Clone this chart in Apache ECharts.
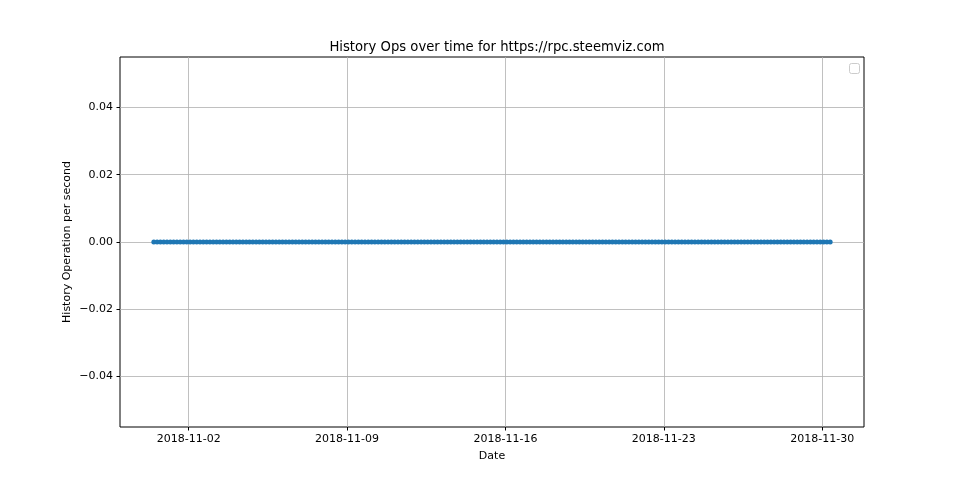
<!DOCTYPE html>
<html>
<head>
<meta charset="utf-8">
<script src="https://cdn.jsdelivr.net/npm/echarts@6/dist/echarts.min.js"></script>
<style>html,body{margin:0;padding:0;background:#fff}#c{width:960px;height:480px}</style>
</head>
<body>
<div id="c"></div>
<script>
const timestamps = [
'2018-10-31 11:00','2018-10-31 14:30','2018-10-31 18:00','2018-10-31 21:30',
'2018-11-01 01:00','2018-11-01 04:30','2018-11-01 08:00','2018-11-01 11:30','2018-11-01 15:00','2018-11-01 18:30','2018-11-01 22:00',
'2018-11-02 01:30','2018-11-02 05:00','2018-11-02 08:30','2018-11-02 12:00','2018-11-02 15:30','2018-11-02 19:00','2018-11-02 22:30',
'2018-11-03 02:00','2018-11-03 05:30','2018-11-03 09:00','2018-11-03 12:30','2018-11-03 16:00','2018-11-03 19:30','2018-11-03 23:00',
'2018-11-04 02:30','2018-11-04 06:00','2018-11-04 09:30','2018-11-04 13:00','2018-11-04 16:30','2018-11-04 20:00','2018-11-04 23:30',
'2018-11-05 03:00','2018-11-05 06:30','2018-11-05 10:00','2018-11-05 13:30','2018-11-05 17:00','2018-11-05 20:30',
'2018-11-06 00:00','2018-11-06 03:30','2018-11-06 07:00','2018-11-06 10:30','2018-11-06 14:00','2018-11-06 17:30','2018-11-06 21:00',
'2018-11-07 00:30','2018-11-07 04:00','2018-11-07 07:30','2018-11-07 11:00','2018-11-07 14:30','2018-11-07 18:00','2018-11-07 21:30',
'2018-11-08 01:00','2018-11-08 04:30','2018-11-08 08:00','2018-11-08 11:30','2018-11-08 15:00','2018-11-08 18:30','2018-11-08 22:00',
'2018-11-09 01:30','2018-11-09 05:00','2018-11-09 08:30','2018-11-09 12:00','2018-11-09 15:30','2018-11-09 19:00','2018-11-09 22:30',
'2018-11-10 02:00','2018-11-10 05:30','2018-11-10 09:00','2018-11-10 12:30','2018-11-10 16:00','2018-11-10 19:30','2018-11-10 23:00',
'2018-11-11 02:30','2018-11-11 06:00','2018-11-11 09:30','2018-11-11 13:00','2018-11-11 16:30','2018-11-11 20:00','2018-11-11 23:30',
'2018-11-12 03:00','2018-11-12 06:30','2018-11-12 10:00','2018-11-12 13:30','2018-11-12 17:00','2018-11-12 20:30',
'2018-11-13 00:00','2018-11-13 03:30','2018-11-13 07:00','2018-11-13 10:30','2018-11-13 14:00','2018-11-13 17:30','2018-11-13 21:00',
'2018-11-14 00:30','2018-11-14 04:00','2018-11-14 07:30','2018-11-14 11:00','2018-11-14 14:30','2018-11-14 18:00','2018-11-14 21:30',
'2018-11-15 01:00','2018-11-15 04:30','2018-11-15 08:00','2018-11-15 11:30','2018-11-15 15:00','2018-11-15 18:30','2018-11-15 22:00',
'2018-11-16 01:30','2018-11-16 05:00','2018-11-16 08:30','2018-11-16 12:00','2018-11-16 15:30','2018-11-16 19:00','2018-11-16 22:30',
'2018-11-17 02:00','2018-11-17 05:30','2018-11-17 09:00','2018-11-17 12:30','2018-11-17 16:00','2018-11-17 19:30','2018-11-17 23:00',
'2018-11-18 02:30','2018-11-18 06:00','2018-11-18 09:30','2018-11-18 13:00','2018-11-18 16:30','2018-11-18 20:00','2018-11-18 23:30',
'2018-11-19 03:00','2018-11-19 06:30','2018-11-19 10:00','2018-11-19 13:30','2018-11-19 17:00','2018-11-19 20:30',
'2018-11-20 00:00','2018-11-20 03:30','2018-11-20 07:00','2018-11-20 10:30','2018-11-20 14:00','2018-11-20 17:30','2018-11-20 21:00',
'2018-11-21 00:30','2018-11-21 04:00','2018-11-21 07:30','2018-11-21 11:00','2018-11-21 14:30','2018-11-21 18:00','2018-11-21 21:30',
'2018-11-22 01:00','2018-11-22 04:30','2018-11-22 08:00','2018-11-22 11:30','2018-11-22 15:00','2018-11-22 18:30','2018-11-22 22:00',
'2018-11-23 01:30','2018-11-23 05:00','2018-11-23 08:30','2018-11-23 12:00','2018-11-23 15:30','2018-11-23 19:00','2018-11-23 22:30',
'2018-11-24 02:00','2018-11-24 05:30','2018-11-24 09:00','2018-11-24 12:30','2018-11-24 16:00','2018-11-24 19:30','2018-11-24 23:00',
'2018-11-25 02:30','2018-11-25 06:00','2018-11-25 09:30','2018-11-25 13:00','2018-11-25 16:30','2018-11-25 20:00','2018-11-25 23:30',
'2018-11-26 03:00','2018-11-26 06:30','2018-11-26 10:00','2018-11-26 13:30','2018-11-26 17:00','2018-11-26 20:30',
'2018-11-27 00:00','2018-11-27 03:30','2018-11-27 07:00','2018-11-27 10:30','2018-11-27 14:00','2018-11-27 17:30','2018-11-27 21:00',
'2018-11-28 00:30','2018-11-28 04:00','2018-11-28 07:30','2018-11-28 11:00','2018-11-28 14:30','2018-11-28 18:00','2018-11-28 21:30',
'2018-11-29 01:00','2018-11-29 04:30','2018-11-29 08:00','2018-11-29 11:30','2018-11-29 15:00','2018-11-29 18:30','2018-11-29 22:00',
'2018-11-30 01:30','2018-11-30 05:00','2018-11-30 08:30'
];
const historyOpsPerSecond = [
0,0,0,0,
0,0,0,0,0,0,0,
0,0,0,0,0,0,0,
0,0,0,0,0,0,0,
0,0,0,0,0,0,0,
0,0,0,0,0,0,
0,0,0,0,0,0,0,
0,0,0,0,0,0,0,
0,0,0,0,0,0,0,
0,0,0,0,0,0,0,
0,0,0,0,0,0,0,
0,0,0,0,0,0,0,
0,0,0,0,0,0,
0,0,0,0,0,0,0,
0,0,0,0,0,0,0,
0,0,0,0,0,0,0,
0,0,0,0,0,0,0,
0,0,0,0,0,0,0,
0,0,0,0,0,0,0,
0,0,0,0,0,0,
0,0,0,0,0,0,0,
0,0,0,0,0,0,0,
0,0,0,0,0,0,0,
0,0,0,0,0,0,0,
0,0,0,0,0,0,0,
0,0,0,0,0,0,0,
0,0,0,0,0,0,
0,0,0,0,0,0,0,
0,0,0,0,0,0,0,
0,0,0,0,0,0,0,
0,0,0
];
const xTickLabels = ['2018-11-02','2018-11-09','2018-11-16','2018-11-23','2018-11-30'];
const yTickValues = [-0.04,-0.02,0,0.02,0.04];
const titleText = 'History Ops over time for https://rpc.steemviz.com';
const xAxisName = 'Date';
const yAxisName = 'History Operation per second';

function toMs(s){
  const parts = s.split(' ');
  const d = parts[0].split('-').map(Number);
  const t = (parts[1] || '00:00').split(':').map(Number);
  return Date.UTC(d[0], d[1]-1, d[2], t[0], t[1]);
}
const times = timestamps.map(toMs);
const seriesData = times.map((t,i)=>[t, historyOpsPerSecond[i]]);
const tMin = Math.min(...times), tMax = Math.max(...times);
const pad = (tMax - tMin) * 0.05;
const xTicks = xTickLabels.map(s=>toMs(s));
function pad2(n){return (n<10?'0':'')+n;}
function fmtDate(v){const d=new Date(v);return d.getUTCFullYear()+'-'+pad2(d.getUTCMonth()+1)+'-'+pad2(d.getUTCDate());}

const font = 'DejaVu Sans';
const chart = echarts.init(document.getElementById('c'), null, {renderer:'canvas'});
chart.setOption({
  animation: false,
  backgroundColor: '#ffffff',
  textStyle: {fontFamily: font},
  title: {
    text: titleText, left: 492, top: 36, textAlign: 'center',
    textStyle: {fontFamily: font, fontSize: 13.2, fontWeight: 'normal', color: '#000'}
  },
  grid: {left: 120, right: 96, top: 57, bottom: 53, show: true, borderColor: '#000', borderWidth: 1, backgroundColor: 'transparent'},
  xAxis: {
    type: 'value', min: tMin - pad, max: tMax + pad, scale: true,
    name: xAxisName, nameLocation: 'middle', nameGap: 24, nameMoveOverlap: false,
    nameTextStyle: {fontFamily: font, fontSize: 11, color: '#000', verticalAlign: 'top'},
    axisLine: {show: false, onZero: false},
    axisTick: {show: true, length: 3.5, lineStyle: {color: '#000'}, customValues: xTicks},
    axisLabel: {customValues: xTicks, formatter: v=>fmtDate(v), fontFamily: font, fontSize: 11, color: '#000', margin: 7, showMinLabel: true, showMaxLabel: true},
    splitLine: {show: true, lineStyle: {color: '#b0b0b0', width: 0.8}}
  },
  yAxis: {
    type: 'value', min: -0.055, max: 0.055,
    name: yAxisName, nameLocation: 'middle', nameRotate: 90, nameGap: 47, nameMoveOverlap: false,
    nameTextStyle: {fontFamily: font, fontSize: 11, color: '#000'},
    axisLine: {show: false, onZero: false},
    axisTick: {show: true, length: 3.5, lineStyle: {color: '#000'}, customValues: yTickValues},
    axisLabel: {customValues: yTickValues, formatter: v=>(v<0?'\u2212':'')+Math.abs(v).toFixed(2), fontFamily: font, fontSize: 11, color: '#000', margin: 7},
    splitLine: {show: true, lineStyle: {color: '#b0b0b0', width: 0.8}}
  },
  series: [{
    type: 'line', data: seriesData,
    symbol: 'circle', symbolSize: 5, showSymbol: true,
    lineStyle: {color: '#1f77b4', width: 1.5},
    itemStyle: {color: '#1f77b4', borderWidth: 0},
    z: 3
  }],
  graphic: [{
    type: 'rect', left: 849, top: 63, shape: {width: 10, height: 10, r: 2},
    style: {fill: 'rgba(255,255,255,0.8)', stroke: '#cccccc', lineWidth: 1}, z: 10
  }]
});
</script>
</body>
</html>
